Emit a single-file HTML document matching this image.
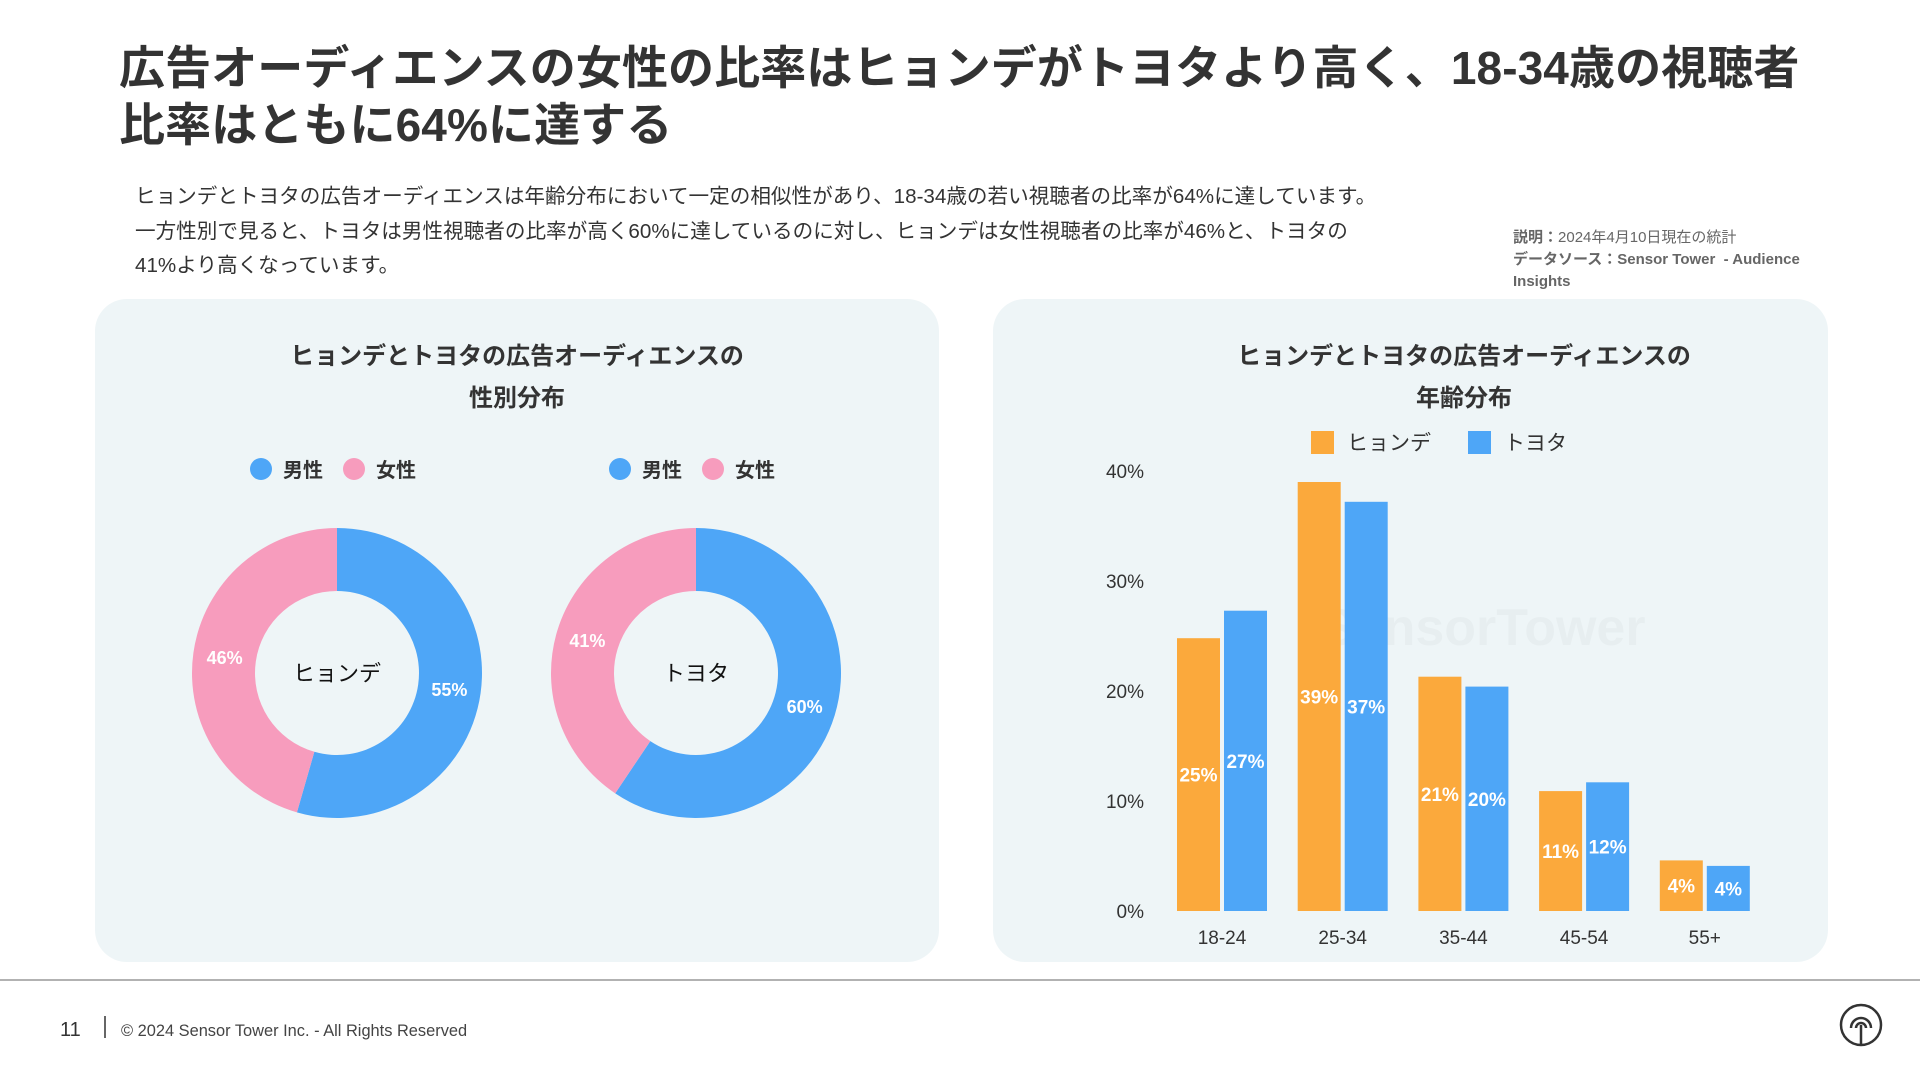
<!DOCTYPE html>
<html><head><meta charset="utf-8">
<style>
*{margin:0;padding:0;box-sizing:border-box}
body{width:1920px;height:1080px;background:#fff;font-family:"Liberation Sans","Noto Sans CJK JP",sans-serif;color:#333;position:relative;overflow:hidden}
.abs{position:absolute}
h1{position:absolute;left:119px;top:40px;font-size:46px;line-height:57px;font-weight:bold;color:#333;letter-spacing:0.1px}
.body{left:135px;top:180px;font-size:20.6px;line-height:34.5px;color:#333}
.note{left:1513px;top:227px;font-size:15px;line-height:22px;color:#666}
.panel{background:#eef5f7;border-radius:32px;top:299px;height:663px}
</style></head><body>
<h1>広告オーディエンスの女性の比率はヒョンデがトヨタより高く、18-34歳の視聴者<br>比率はともに64%に達する</h1>
<div class="abs body">ヒョンデとトヨタの広告オーディエンスは年齢分布において一定の相似性があり、18-34歳の若い視聴者の比率が64%に達しています。<br>一方性別で見ると、トヨタは男性視聴者の比率が高く60%に達しているのに対し、ヒョンデは女性視聴者の比率が46%と、トヨタの<br>41%より高くなっています。</div>
<div class="abs note"><b>説明：</b>2024年4月10日現在の統計<br><b>データソース：Sensor Tower&nbsp; - Audience<br>Insights</b></div>
<div class="abs panel" style="left:95px;width:844px"></div>
<div class="abs panel" style="left:993px;width:835px"></div>
<svg class="abs" style="left:0;top:0" width="1920" height="1080" id="chart">
<g font-family="Liberation Sans, Noto Sans CJK JP, sans-serif">
<text x="517" y="364" text-anchor="middle" font-size="24" font-weight="bold" fill="#333">ヒョンデとトヨタの広告オーディエンスの</text>
<text x="517" y="406" text-anchor="middle" font-size="24" font-weight="bold" fill="#333">性別分布</text>
<text x="1464" y="364" text-anchor="middle" font-size="24" font-weight="bold" fill="#333">ヒョンデとトヨタの広告オーディエンスの</text>
<text x="1464" y="406" text-anchor="middle" font-size="24" font-weight="bold" fill="#333">年齢分布</text>
<text x="1320" y="645" font-size="52" fill="#000" opacity="0.025" font-weight="bold">SensorTower</text>
</g>
<g id="donuts"></g><g id="bars"></g>
<line x1="0" y1="980" x2="1920" y2="980" stroke="#999" stroke-width="1.5"/>
<text x="60" y="1036" font-size="20" fill="#333" font-family="Liberation Sans, sans-serif">11</text>
<line x1="105" y1="1016" x2="105" y2="1038" stroke="#333" stroke-width="1.5"/>
<text x="121" y="1036" font-size="16.4" fill="#444" font-family="Liberation Sans, sans-serif">© 2024 Sensor Tower Inc. - All Rights Reserved</text>
<g fill="none" stroke="#333" stroke-width="2.5">
<circle cx="1861" cy="1025" r="20"/><path d="M1851 1028a10 10 0 1 1 20 0M1856 1028a5 5 0 1 1 10 0"/><line x1="1861" y1="1025" x2="1861" y2="1045"/>
</g>
</svg>
<script>
const NS='http://www.w3.org/2000/svg';
const donutNames=['ヒョンデ','トヨタ'];
const maleShare=[55,60];
const femaleShare=[46,41];
const maleLabels=['55%','60%'];
const femaleLabels=['46%','41%'];
const categories=['18-24','25-34','35-44','45-54','55+'];
const hyundai=[24.8,39.0,21.3,10.9,4.6];
const toyota=[27.3,37.2,20.4,11.7,4.1];
const hyundaiLabels=['25%','39%','21%','11%','4%'];
const toyotaLabels=['27%','37%','20%','12%','4%'];
const yTicks=[0,10,20,30,40];
const BLUE='#4ea6f7',PINK='#f79cbd',ORANGE='#fba93c';
function mk(tag,attrs,parent,txt){const e=document.createElementNS(NS,tag);for(const k in attrs)e.setAttribute(k,attrs[k]);if(txt!=null)e.textContent=txt;parent.appendChild(e);return e;}
const F='Liberation Sans, Noto Sans CJK JP, sans-serif';
const dg=document.getElementById('donuts');
const centers=[337,696],cy=673,R=145,r=82;
function pt(cx,a,rad){return [cx+rad*Math.sin(a),cy-rad*Math.cos(a)];}
function arc(cx,a0,a1){const l=(a1-a0)>Math.PI?1:0;const p=[pt(cx,a0,R),pt(cx,a1,R),pt(cx,a1,r),pt(cx,a0,r)];
return `M${p[0]}A${R},${R} 0 ${l} 1 ${p[1]}L${p[2]}A${r},${r} 0 ${l} 0 ${p[3]}Z`;}
donutNames.forEach((n,i)=>{
 const cx=centers[i];const tot=maleShare[i]+femaleShare[i];
 const am=maleShare[i]/tot*2*Math.PI;
 const m=mk('path',{d:arc(cx,0,am),fill:BLUE},dg);
 
 
 const f=mk('path',{d:arc(cx,am,2*Math.PI-0.0001),fill:PINK},dg);
 
 
 const rm=(R+r)/2;
 const lm=pt(cx,am/2,rm);
 const t1=mk('text',{x:lm[0],y:lm[1]+7,'text-anchor':'middle','font-size':18,'font-weight':'bold',fill:'#fff','font-family':F},dg,maleLabels[i]);
 
 
 const lf=pt(cx,am+(2*Math.PI-am)/2,rm);
 const t2=mk('text',{x:lf[0],y:lf[1]+7,'text-anchor':'middle','font-size':18,'font-weight':'bold',fill:'#fff','font-family':F},dg,femaleLabels[i]);
 
 
 const c=mk('text',{x:cx,y:cy+8,'text-anchor':'middle','font-size':22,fill:'#111','font-family':F},dg,n);
 
 
 const lx=cx-76;
 [['男性',BLUE,0],['女性',PINK,93]].forEach(([t,col,dx])=>{
  const d=mk('circle',{cx:lx+dx,cy:469,r:11,fill:col},dg);
  
  
  const tt=mk('text',{x:lx+dx+22,y:477,'font-size':20,'font-weight':'bold',fill:'#333','font-family':F},dg,t);
  
  
 });
});
const bg=document.getElementById('bars');
const y0=911,pxPer=(911-471)/40;
const yS=v=>y0-v*pxPer;
const x0=1222,step=120.7;
const xS=i=>x0+i*step;
yTicks.forEach(v=>{const t=mk('text',{x:1144,y:yS(v)+7,'text-anchor':'end','font-size':19,fill:'#333','font-family':F},bg,v+'%');
 
 });
categories.forEach((c,i)=>{
 const cx=xS(i);
 [[hyundai,hyundaiLabels,ORANGE,cx-45,'hyundai'],[toyota,toyotaLabels,BLUE,cx+2,'toyota']].forEach(([arr,lab,col,x,nm])=>{
  const v=arr[i];
  const b=mk('rect',{x:x,y:yS(v),width:43,height:y0-yS(v),fill:col},bg);
  
  
  const t=mk('text',{x:x+21.5,y:(yS(v)+y0)/2+7,'text-anchor':'middle','font-size':19,'font-weight':'bold',fill:'#fff','font-family':F},bg,lab[i]);
  
  
 });
 const t=mk('text',{x:cx,y:944,'text-anchor':'middle','font-size':19,fill:'#333','font-family':F},bg,c);
 
 
});
[['ヒョンデ',ORANGE,1311],['トヨタ',BLUE,1468]].forEach(([t,col,x])=>{
 const s=mk('rect',{x:x,y:431,width:23,height:23,fill:col},bg);
 
 
 const tt=mk('text',{x:x+36,y:450,'font-size':21,fill:'#333','font-family':F},bg,t);
 
 
});
</script>
</body></html>
